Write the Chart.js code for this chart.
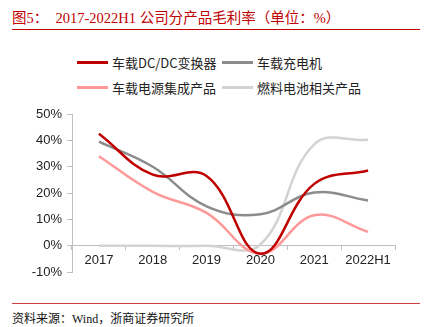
<!DOCTYPE html>
<html>
<head>
<meta charset="utf-8">
<script src="https://cdn.jsdelivr.net/npm/chart.js@4"></script>
<style>
  body { margin: 0; width: 426px; height: 327px; background: #fff; position: relative; overflow: hidden; }
  .title { position: absolute; left: 12px; top: 6px; font: 14.5px "Liberation Serif", "Noto Sans CJK SC", serif; color: #C00000; white-space: pre; }
  .rule { position: absolute; left: 12px; width: 408px; height: 1px; background: #C00000; }
  .source { position: absolute; left: 12px; top: 309px; font: 12px "Liberation Serif", "Noto Sans CJK SC", serif; color: #111; }
  #legend { position: absolute; left: 77px; top: 53px; display: grid; grid-template-columns: 145px 145px; row-gap: 6px; font: 13px "Noto Sans CJK SC", sans-serif; color: #222; }
  #legend div { display: flex; align-items: center; height: 19px; }
  #legend i { display: inline-block; width: 31px; height: 3px; margin-right: 4px; }
  #wrap { position: absolute; left: 0; top: 100px; width: 426px; height: 185px; }
</style>
</head>
<body>
<div class="title">图5：  2017-2022H1 公司分产品毛利率（单位：%）</div>
<div class="rule" style="top:29px"></div>
<div id="legend"></div>
<div id="wrap"><canvas id="chart"></canvas></div>
<div class="rule" style="top:303px; background:#D04040"></div>
<div class="source">资料来源：Wind，浙商证券研究所</div>
<script>
const years = ["2017", "2018", "2019", "2020", "2021", "2022H1"];
const dcdc = [42.5, 27, 26.5, -3, 23.5, 28.6];
const charger = [39.5, 30, 15, 12, 20.2, 17.2];
const powerUnit = [34, 20.5, 12.5, -3, 11.6, 5.3];
const fuelCell = [0, 0, 0, 0.5, 38.5, 40.2];
const yTicks = [-10, 0, 10, 20, 30, 40, 50];

const series = [
  { label: "车载DC/DC变换器", data: dcdc, color: "#C00000" },
  { label: "车载充电机", data: charger, color: "#8C8C8C" },
  { label: "车载电源集成产品", data: powerUnit, color: "#FF9999" },
  { label: "燃料电池相关产品", data: fuelCell, color: "#D3D3D3" }
];

// two-column legend above the plot
const legend = document.getElementById("legend");
series.forEach(s => {
  const item = document.createElement("div");
  item.innerHTML = `<i style="background:${s.color}"></i>${s.label}`;
  legend.appendChild(item);
});

const tickFont = { family: "Liberation Sans, Arial, sans-serif", size: 13 };

new Chart(document.getElementById("chart"), {
  type: "line",
  data: {
    labels: years,
    datasets: series.map(s => ({
      label: s.label,
      data: s.data,
      borderColor: s.color,
      borderWidth: 2.5,
      pointRadius: 0,
      tension: 0.4,
      fill: false
    }))
  },
  options: {
    responsive: true,
    maintainAspectRatio: false,
    animation: false,
    layout: { padding: { top: 14, bottom: 12, left: 0, right: 31 } },
    plugins: { legend: { display: false }, tooltip: { enabled: false } },
    scales: {
      x: {
        position: { y: 0 },
        offset: true,
        border: { color: "#BFBFBF", width: 1 },
        grid: { offset: true, drawOnChartArea: false, drawTicks: true, tickLength: 4, color: "#BFBFBF" },
        ticks: { color: "#222", font: tickFont, padding: 3, maxRotation: 0 }
      },
      y: {
        min: -10,
        max: 50,
        afterBuildTicks: axis => { axis.ticks = yTicks.map(v => ({ value: v })); },
        afterFit: axis => { axis.width = 72; },
        border: { color: "#BFBFBF", width: 1 },
        grid: { drawOnChartArea: false, drawTicks: true, tickLength: 5, color: "#BFBFBF" },
        ticks: { color: "#222", font: tickFont, padding: 5, callback: v => v + "%" }
      }
    }
  }
});
</script>
</body>
</html>
